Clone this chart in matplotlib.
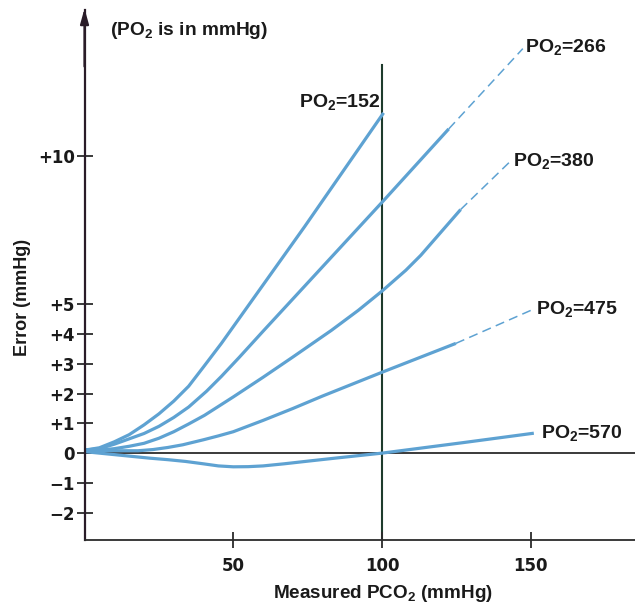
import numpy as np
import matplotlib.pyplot as plt

plt.rcParams['font.family'] = ['Liberation Sans', 'DejaVu Sans']
plt.rcParams['font.weight'] = 'bold'
plt.rcParams['mathtext.fontset'] = 'custom'
plt.rcParams['mathtext.rm'] = 'Liberation Sans:bold'
plt.rcParams['mathtext.default'] = 'rm'

# error curves, one per PO2 level (solid part, then dashed extrapolation)
po2_levels = ['152', '266', '380', '475', '570']

x_152 = [0, 5, 10, 15, 20, 25, 30, 35, 40, 46, 74, 100.5]
y_152 = [0.1, 0.18, 0.38, 0.62, 0.95, 1.32, 1.75, 2.25, 2.9, 3.69, 7.62, 11.44]

x_266 = [0, 5, 10, 15, 20, 25, 30, 35, 41, 46, 52, 60.2, 100.5, 122.4]
y_266 = [0.1, 0.15, 0.3, 0.48, 0.66, 0.9, 1.2, 1.55, 2.08, 2.58, 3.22, 4.12, 8.49, 10.9]
x_266_ext = [122.4, 147.3]
y_266_ext = [10.9, 13.6]

x_380 = [0, 5, 10, 15, 20, 25, 30, 35, 40.3, 45, 50, 60, 70, 83, 92, 100, 104, 108, 113, 126.4]
y_380 = [0.1, 0.1, 0.15, 0.23, 0.33, 0.5, 0.72, 0.98, 1.27, 1.57, 1.89, 2.55, 3.23, 4.13, 4.8,
         5.45, 5.8, 6.15, 6.65, 8.19]
x_380_ext = [126.4, 143.3]
y_380_ext = [8.19, 9.83]

x_475 = [0, 10, 18, 23, 28, 33, 40, 45, 50, 60, 70, 80, 90, 100, 124.8]
y_475 = [0.1, 0.08, 0.08, 0.12, 0.19, 0.28, 0.45, 0.58, 0.72, 1.1, 1.5, 1.92, 2.32, 2.72, 3.69]
x_475_ext = [124.8, 150]
y_475_ext = [3.69, 4.8]

x_570 = [0, 5, 10, 16, 22, 28, 34, 40, 45, 50, 55, 60, 67, 75, 85, 100, 127, 151]
y_570 = [0.05, 0, -0.05, -0.11, -0.17, -0.22, -0.28, -0.36, -0.43, -0.46, -0.455, -0.43,
         -0.36, -0.27, -0.16, 0, 0.35, 0.67]

# label anchor points (data coords)
label_x = [99.5, 148, 143.9, 151.7, 153.4]
label_y = [11.8, 13.65, 9.83, 4.83, 0.67]
label_ha = ['right', 'left', 'left', 'left', 'left']

yticks = [-2, -1, 0, 1, 2, 3, 4, 5, 10]
ytick_labels = ['\u22122', '\u22121', '0', '+1', '+2', '+3', '+4', '+5', '+10']
xticks = [50, 100, 150]

blue = '#5ea2d2'
dark = '#2b2b2b'
ink = '#1a1a1a'

fig = plt.figure(figsize=(6.35, 6.04), dpi=100)
ax = fig.add_axes([0.1331, 0.106, 0.8669, 0.8775])
ax.set_xlim(0, 185)
ax.set_ylim(-2.92, 14.9)

for s in ['top', 'right']:
    ax.spines[s].set_visible(False)
ax.spines['left'].set_color('#2a1c28')
ax.spines['left'].set_linewidth(1.6)
ax.spines['bottom'].set_color(dark)
ax.spines['bottom'].set_linewidth(1.3)

# arrow head on the y axis
ax.annotate('', xy=(0, 14.95), xytext=(0, 13.0),
            arrowprops=dict(arrowstyle='-|>,head_length=0.9,head_width=0.25',
                            color='#2a1c28', lw=1.6, shrinkA=0, shrinkB=0),
            annotation_clip=False)

# zero line and the 100 mmHg reference line
ax.axhline(0, color=dark, lw=1.3, zorder=1)
ax.plot([100, 100], [-2.92, 13.05], color='#1e3b2c', lw=1.5, zorder=1)

lw = 2.3
for xs, ys in [(x_152, y_152), (x_266, y_266), (x_380, y_380), (x_475, y_475), (x_570, y_570)]:
    ax.plot(xs, ys, color=blue, lw=lw, solid_capstyle='butt', solid_joinstyle='round')
for xe, ye in [(x_266_ext, y_266_ext), (x_380_ext, y_380_ext), (x_475_ext, y_475_ext)]:
    ax.plot(xe, ye, color=blue, lw=1.1, dashes=(6, 3.5))

for lev, lx, ly, ha in zip(po2_levels, label_x, label_y, label_ha):
    ax.text(lx, ly, r'PO$_2$=' + lev, ha=ha, va='center', fontsize=14,
            fontweight='bold', color=ink)

ax.set_yticks(yticks)
ax.set_yticklabels(ytick_labels)
ax.set_xticks(xticks)
ax.tick_params(axis='y', direction='inout', length=12, width=1.3, color=dark, pad=1)
ax.tick_params(axis='x', direction='inout', length=12, width=1.3, color=dark, pad=6)
for t in ax.get_xticklabels() + ax.get_yticklabels():
    t.set_fontfamily('DejaVu Sans')
    t.set_fontsize(12)
    t.set_fontweight('bold')
    t.set_color(ink)

fig.text(0.297, 0.95, r'(PO$_2$ is in mmHg)', ha='center', va='center',
         fontsize=13.8, fontweight='bold', color=ink)
fig.text(0.035, 0.508, 'Error (mmHg)', rotation=90, ha='center', va='center',
         fontsize=13, fontweight='bold', color=ink)
fig.text(0.603, 0.018, r'Measured PCO$_2$ (mmHg)', ha='center', va='center',
         fontsize=13.6, fontweight='bold', color=ink)

fig.savefig('out.png', dpi=100, facecolor='white')
